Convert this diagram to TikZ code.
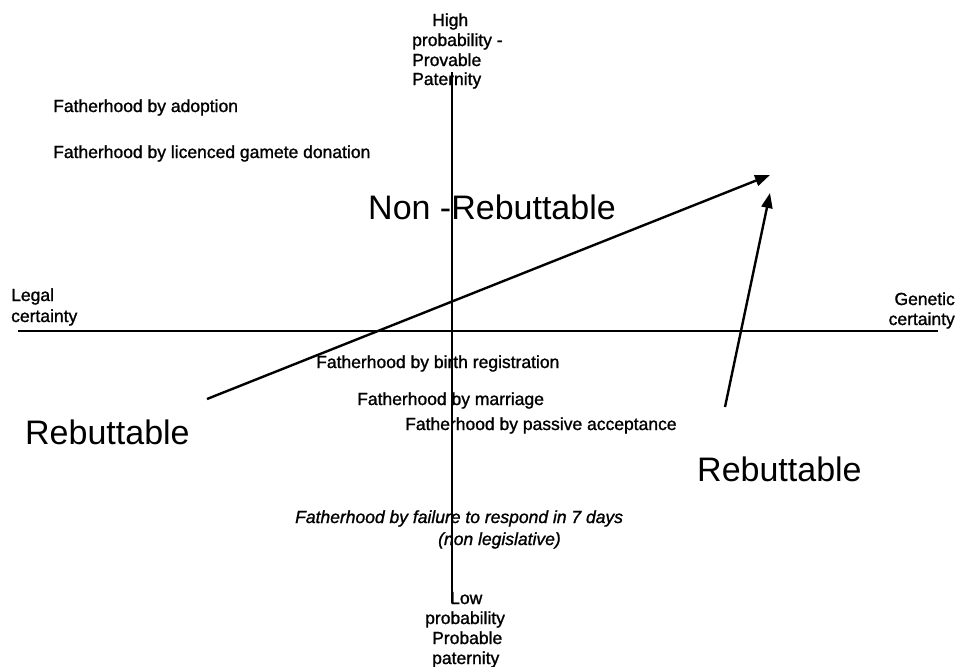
\documentclass[tikz,border=0pt]{standalone}
\usepackage{fontspec}
\setmainfont{Liberation Sans}
\newfontfamily\smallfam{Liberation Sans}[FakeBold=1.2]
\usetikzlibrary{arrows.meta}
\begin{document}
\begin{tikzpicture}[x=1pt,y=-1pt,
  lbl/.style={inner sep=0pt,anchor=base west,font=\smallfam\fontsize{17.5}{20}\selectfont},
  lblr/.style={inner sep=0pt,anchor=base east,font=\smallfam\fontsize{17.5}{20}\selectfont},
  big/.style={inner sep=0pt,anchor=base west,font=\fontsize{34}{40}\selectfont},
  ital/.style={inner sep=0pt,anchor=base west,font=\smallfam\fontsize{17.5}{20}\selectfont\itshape},
  axis/.style={line width=1.8pt},
  arr/.style={line width=2.4pt,-{Triangle[length=15pt,width=11pt]}}]
\useasboundingbox (0,0) rectangle (959,667);
% axes
\coordinate (hl) at (18,331);
\coordinate (hr) at (938,331);
\coordinate (vt) at (452,72);
\coordinate (vb) at (452,603);
\draw[axis] (hl) -- (hr);
\draw[axis] (vt) -- (vb);
% arrows
\coordinate (a1s) at (207,399);
\coordinate (a1e) at (770,175);
\coordinate (a2s) at (725,407);
\coordinate (a2e) at (770,193);
\draw[arr] (a1s) -- (a1e);
\draw[arr] (a2s) -- (a2e);
% top label
\node[lbl] (t1) at (432,26) {High};
\node[lbl] (t2) at (412,46) {probability -};
\node[lbl] (t3) at (412,66) {Provable};
\node[lbl] (t4) at (412,85) {Paternity};
% upper left
\node[lbl] (f1) at (53,112) {Fatherhood by adoption};
\node[lbl] (f2) at (53,158) {Fatherhood by licenced gamete donation};
\node[big] (nr) at (368,219) {Non -Rebuttable};
% axis labels
\node[lbl] (l1) at (11,301) {Legal};
\node[lbl] (l2) at (11,322) {certainty};
\node[lblr] (g1) at (955,305) {Genetic};
\node[lblr] (g2) at (955,325) {certainty};
% lower
\node[lbl] (f3) at (316,368) {Fatherhood by birth registration};
\node[lbl] (f4) at (357,405) {Fatherhood by marriage};
\node[lbl] (f5) at (405,430) {Fatherhood by passive acceptance};
\node[big] (r1) at (25,444) {Rebuttable};
\node[big] (r2) at (697,481) {Rebuttable};
\node[ital] (i1) at (295,523) {Fatherhood by failure to respond in 7 days};
\node[ital] (i2) at (438,545) {(non legislative)};
% bottom label
\node[lbl] (b1) at (450,604) {Low};
\node[lbl] (b2) at (425,624) {probability};
\node[lbl] (b3) at (432,644) {Probable};
\node[lbl] (b4) at (432,664) {paternity};
\end{tikzpicture}
\end{document}
